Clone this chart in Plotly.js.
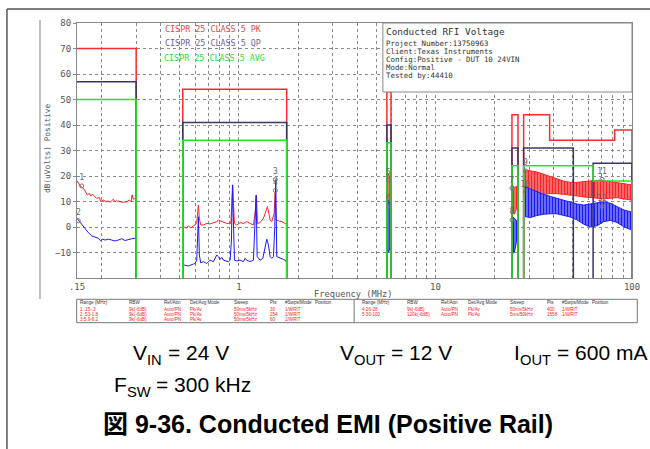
<!DOCTYPE html>
<html><head><meta charset="utf-8">
<script src="https://cdn.plot.ly/plotly-3.0.1.min.js"></script>
<style>html,body{margin:0;padding:0;background:#fff;}#chart{width:650px;height:449px;}</style>
</head><body><div id="chart"></div>
<script>
// ---------------- data ----------------
const xTickVals = [0.15, 1, 10, 100];
const xTickText = ['.15', '1', '10', '100'];
const xMinorVals = [0.2,0.3,0.4,0.5,0.6,0.7,0.8,0.9,2,3,4,5,6,7,8,9,20,30,40,50,60,70,80,90];
const yTickVals = [-10,0,10,20,30,40,50,60,70,80];

// Range 1: 0.15-0.3 MHz
const r1PkFreq = [0.150,0.1554,0.1617,0.1647,0.1693,0.1733,0.1761,0.1803,0.1853,0.1889,0.1949,0.198,0.2043,0.2108,0.2166,0.2208,0.2251,0.2296,0.2342,0.2388,0.2483,0.2582,0.2685,0.277,0.2826,0.2859,0.2904,0.2973];
const r1Pk = [18.2,16.1,15.2,13.9,12.6,13.2,12.2,12.8,11.9,11.2,11.6,9.9,10.6,9.9,10.2,9.7,10.3,10.9,9.9,10.3,9.9,9.7,9.9,10.6,9.9,12.6,10.9,11.2];
const r1AvFreq = [0.150,0.1524,0.1584,0.1647,0.1713,0.1782,0.1853,0.1926,0.198,0.2027,0.2083,0.2166,0.2251,0.2342,0.2435,0.2532,0.2633,0.2737,0.2847,0.2961];
const r1Av = [3.4,2.7,1.4,-0.5,-2.2,-3.5,-4.1,-4.4,-5.4,-4.8,-5.1,-4.8,-5.1,-5.5,-5.1,-4.6,-5.3,-4.8,-4.6,-4.4];

// Range 2: 0.53-1.8 MHz
const r2PkFreq = [0.526,0.538,0.553,0.569,0.587,0.598,0.610,0.617,0.622,0.629,0.639,0.660,0.686,0.713,0.742,0.771,0.786,0.802,0.818,0.834,0.850,0.867,0.884,0.902,0.912,0.923,0.930,0.938,0.949,0.975,1.014,1.054,1.096,1.140,1.185,1.214,1.228,1.242,1.282,1.333,1.375,1.397,1.419,1.441,1.470,1.511,1.528,1.546,1.590,1.653,1.719,1.752];
const r2Pk = [0.1,-0.5,0.4,-0.3,0.4,0.8,1.7,4.7,8.6,3.4,0.8,0.8,1.4,1.2,1.7,2.1,2.7,2.4,2.1,1.9,1.7,1.4,1.4,1.2,2.7,10.6,16.5,9.3,1.4,0.8,1.7,1.4,2.1,1.4,0.8,6.7,12.5,1.4,1.7,3.4,6.7,8.0,5.4,2.7,2.1,5.4,13.5,2.7,2.4,2.1,1.4,0.8];
const r2AvFreq = [0.526,0.553,0.587,0.598,0.610,0.617,0.622,0.629,0.639,0.660,0.686,0.713,0.742,0.771,0.786,0.802,0.818,0.834,0.867,0.884,0.902,0.916,0.927,0.938,0.949,0.975,1.014,1.054,1.075,1.096,1.140,1.185,1.209,1.223,1.238,1.282,1.323,1.359,1.386,1.413,1.441,1.470,1.499,1.522,1.540,1.558,1.620,1.685,1.719,1.752];
const r2Av = [-14.9,-15.3,-14.5,-14.3,-13.0,-3.8,4.0,-11.0,-14.0,-13.6,-14.3,-13.0,-13.6,-11.0,-11.6,-12.7,-11.9,-13.0,-13.3,-13.6,-13.0,-5.1,16.5,-2.5,-13.0,-13.3,-13.0,-13.6,-12.3,-13.0,-13.6,-13.0,0.1,12.5,-11.6,-13.0,-12.3,-8.4,-4.8,-7.1,-11.6,-12.3,-11.6,0.1,18.4,-11.6,-12.3,-12.7,-13.0,-14.0];

// Range 3: 5.9-6.2 MHz (dense sweep: upper / lower envelope)
const r3Freq = [5.70, 5.78, 5.86];
const r3PkHi = [20, 21, 19];
const r3PkLo = [9, 8.5, 10];
const r3AvHi = [9, 10, 8];
const r3AvLo = [-9, -10, -8];

// Range 4: 26-28 MHz
const r4Freq = [24.6, 25.2, 25.8, 26.3];
const r4PkHi = [16.5, 15.5, 16, 15];
const r4PkLo = [6, 5, 7, 8];
const r4AvHi = [4, 3.5, 2.5, 3];
const r4AvLo = [-10.3, -10, -6, -5.5];

// Range 5: 30-100 MHz
const r5Freq = [28.5,30.4,32.8,35.5,38.4,41.5,44.9,48.6,52.5,56.8,61.4,66.4,71.8,77.6,83.9,90.8,100];
const r5PkHi = [22.4,22.0,21.6,20.7,19.7,18.8,18.0,17.5,17.5,17.8,18.0,18.3,18.2,17.8,17.4,16.9,16.5];
const r5PkLo = [13.6,12.6,12.6,12.8,13.1,13.1,12.8,12.6,12.2,11.8,11.5,11.3,11.0,11.3,11.5,11.0,10.5];
const r5AvHi = [15.8,14.9,13.9,12.8,12.0,11.3,10.6,9.7,9.0,8.6,9.0,9.7,9.9,9.3,8.0,6.7,5.8];
const r5AvLo = [4.1,3.7,4.5,5.0,5.2,5.2,4.7,3.9,2.8,1.1,0.0,0.5,2.1,2.6,1.8,0.1,-1.2];

// CISPR 25 Class 5 limit segments
const pkStart = [0.15, 0.518, 5.66, 24.5, 28.1, 38.1, 81.6];
const pkStop  = [0.3, 1.75, 5.94, 26.3, 38.1, 81.6, 100];
const pkLevel = [70, 54, 53, 44, 44, 34, 38];
const qpStart = [0.15, 0.518, 5.66, 24.5, 28.1, 63.4];
const qpStop  = [0.3, 1.75, 5.94, 26.3, 50.3, 100];
const qpLevel = [57, 41, 40, 31, 31, 25];
const avStart = [0.15, 0.518, 5.66, 24.5, 28.1, 63.4];
const avStop  = [0.3, 1.75, 5.94, 26.3, 63.4, 100];
const avLevel = [50, 34, 33, 24, 24, 18];
const limitFloor = -20;

// Markers
const mkLabel = ['1','2','3','4','5','6','7','8','9','10','11','12'];
const mkFreq  = [0.1585,0.1523,1.533,1.533,5.75,5.75,24.5,24.5,28.65,28.65,70.4,70.4];
const mkLevel = [16.1,2.5,18.6,14.3,18.4,8.0,15.2,2.75,22.0,13.6,18.7,8.0];

// Texts
const legendLabels = ['CISPR 25 CLASS 5 PK', 'CISPR 25 CLASS 5 QP', 'CISPR 25 CLASS 5 AVG'];
const infoTitle = 'Conducted RFI Voltage';
const infoLines = ['Project Number:13750963', 'Client:Texas Instruments', 'Config:Positive - DUT 10 24VIN', 'Mode:Normal', 'Tested by:44410'];
const tableHeader = ['Range (MHz)', 'RBW', 'Ref/Attn', 'Det/Avg Mode', 'Sweep', 'Pts', '#Swps/Mode', 'Position'];
const tableLeftRows = [
  ['1:.15-.3', '9k(-6dB)', 'Auto/PN', 'Pk/Av', '50ms/5kHz', '30', '1/WRIT'],
  ['2:.53-1.8', '9k(-6dB)', 'Auto/PN', 'Pk/Av', '50ms/5kHz', '254', '1/WRIT'],
  ['3:5.9-6.2', '9k(-6dB)', 'Auto/PN', 'Pk/Av', '50ms/5kHz', '60', '1/WRIT']
];
const tableRightRows = [
  ['4:26-28', '9k(-6dB)', 'Auto/PN', 'Pk/Av', '50ms/5kHz', '400', '1/WRIT'],
  ['5:30-100', '120k(-6dB)', 'Auto/PN', 'Pk/Av', '5ms/50kHz', '1558', '1/WRIT']
];
// caption pieces: symbol, subscript, remainder
const captionRow1 = [['V', 'IN', '= 24 V'], ['V', 'OUT', '= 12 V'], ['I', 'OUT', '= 600 mA']];
const captionRow2 = [['F', 'SW', '= 300 kHz']];
const figureTitle = '図 9-36. Conducted EMI (Positive Rail)';

// ---------------- layout helpers ----------------
const W = 650, H = 449;
const PL = 77, PR = 631.7, PT = 23, PB = 278;
const px = x => (x - PL) / (PR - PL);
const py = y => (PB - y) / (PB - PT);

const RED = '#ff2222', BLUE = '#1a1aff';
const PKC = '#ff2a2a', QPC = '#3d3566', AVC = '#22e622';
const MONO = 'DejaVu Sans Mono';
const SANS = 'Liberation Sans, Arial, sans-serif';

function envelope(f, hi, lo) {
  return { x: f.concat(f.slice().reverse()), y: hi.concat(lo.slice().reverse()) };
}
function limitPath(starts, stops, levels, floor, axisMin) {
  const x = [], y = [];
  for (let i = 0; i < starts.length; i++) {
    const joined = i > 0 && starts[i] === stops[i - 1];
    if (!joined) {
      if (i > 0) { x.push(stops[i - 1]); y.push(floor); x.push(null); y.push(null); }
      if (starts[i] > axisMin) { x.push(starts[i]); y.push(floor); }
    }
    x.push(starts[i]); y.push(levels[i]);
    x.push(stops[i]); y.push(levels[i]);
  }
  x.push(stops[stops.length - 1]); y.push(floor);
  return { x, y };
}

const traces = [];
function lineTrace(x, y, color) {
  traces.push({ x, y, type: 'scatter', mode: 'lines', line: { color, width: 1 }, hoverinfo: 'skip', showlegend: false });
}
function bandTrace(f, hi, lo, color, bg) {
  const e = envelope(f, hi, lo);
  traces.push({ x: e.x, y: e.y, type: 'scatter', mode: 'lines', fill: 'toself',
    fillcolor: bg, fillpattern: { shape: '|', fgcolor: color, bgcolor: bg, size: 3, solidity: 0.55 },
    line: { color, width: 1 }, hoverinfo: 'skip', showlegend: false });
}

lineTrace(r1PkFreq, r1Pk, RED);
lineTrace(r1AvFreq, r1Av, BLUE);
lineTrace(r2PkFreq, r2Pk, RED);
lineTrace(r2AvFreq, r2Av, BLUE);
bandTrace(r3Freq, r3PkHi, r3PkLo, RED, '#ff8a8a');
bandTrace(r3Freq, r3AvHi, r3AvLo, BLUE, '#8a8aff');
bandTrace(r4Freq, r4PkHi, r4PkLo, RED, '#ff8a8a');
bandTrace(r4Freq, r4AvHi, r4AvLo, BLUE, '#8a8aff');
bandTrace(r5Freq, r5PkHi, r5PkLo, RED, '#ff8a8a');
bandTrace(r5Freq, r5AvHi, r5AvLo, BLUE, '#9090ff');

const axisMin = xTickVals[0];
[[pkStart, pkStop, pkLevel, PKC], [qpStart, qpStop, qpLevel, QPC], [avStart, avStop, avLevel, AVC]].forEach(d => {
  const p = limitPath(d[0], d[1], d[2], limitFloor, axisMin);
  traces.push({ x: p.x, y: p.y, type: 'scatter', mode: 'lines', line: { color: d[3], width: 1.5 },
    connectgaps: false, hoverinfo: 'skip', showlegend: false, cliponaxis: true });
});

traces.push({ x: mkFreq, y: mkLevel, text: mkLabel, type: 'scatter', mode: 'markers+text',
  textposition: 'top center', textfont: { family: MONO, size: 8, color: '#666' },
  marker: { symbol: 'circle-open', size: 4, color: '#777', line: { width: 1, color: '#777' } },
  hoverinfo: 'skip', showlegend: false, cliponaxis: false });

// ---------------- annotations ----------------
const ann = [];
function txt(text, x, y, size, color, opts, family) {
  ann.push(Object.assign({ text, x: px(x), y: py(y), xref: 'paper', yref: 'paper', showarrow: false,
    xanchor: 'left', yanchor: 'middle', font: { family: family || MONO, size, color } }, opts || {}));
}
txt(legendLabels[0], 163, 29.3, 8.4, '#e44a4a');
txt(legendLabels[1], 163, 43.3, 8.4, '#6f5f9f');
txt(legendLabels[2], 161.7, 58, 8.4, '#33dd33');
txt(infoTitle, 384, 31, 9.4, '#333');
const infoY = [43.3, 51.7, 59.3, 67.3, 75.3];
infoLines.forEach((t, i) => txt(t, 384, infoY[i], 7.4, '#333'));
txt('dB(uVolts) Positive', 47, 148, 7.8, '#555', { xanchor: 'center', textangle: -90 });
txt('Frequency (MHz)', 353, 294, 8.7, '#555', { xanchor: 'center' });

// measurement table
const colL = [78.3, 126.7, 161.7, 188.3, 232, 268.3, 282.7, 313.3];
const colR = [360, 405, 439.3, 466, 508, 545, 559.3, 590];
const rowY = [309, 314, 319.3];
const TF = 4.6;
tableHeader.forEach((h, i) => { txt(h, colL[i], 302.7, TF, '#333', null, SANS); txt(h, colR[i], 302.7, TF, '#333', null, SANS); });
tableLeftRows.forEach((r, j) => r.forEach((c, i) => txt(c, colL[i], rowY[j], TF, '#ff2020', null, SANS)));
tableRightRows.forEach((r, j) => r.forEach((c, i) => txt(c, colR[i], rowY[j], TF, '#ff2020', null, SANS)));

// captions (main text + subscript pieces, measured with canvas)
const mctx = document.createElement('canvas').getContext('2d');
function textWidth(t, size) { mctx.font = size + 'px "Liberation Sans"'; return mctx.measureText(t).width; }
const CAP = 21, SUB = 14.7;
function caption(parts, x, y) {
  const f = (size) => ({ family: SANS, size, color: '#000' });
  ann.push({ text: parts[0], x: px(x), y: py(y), xref: 'paper', yref: 'paper', showarrow: false, xanchor: 'left', yanchor: 'middle', font: f(CAP) });
  const x2 = x + textWidth(parts[0], CAP);
  ann.push({ text: parts[1], x: px(x2), y: py(y + 8.4), xref: 'paper', yref: 'paper', showarrow: false, xanchor: 'left', yanchor: 'middle', font: f(SUB) });
  const x3 = x2 + textWidth(parts[1], SUB) + textWidth(' ', CAP);
  ann.push({ text: parts[2], x: px(x3), y: py(y), xref: 'paper', yref: 'paper', showarrow: false, xanchor: 'left', yanchor: 'middle', font: f(CAP) });
}
const capX1 = [131, 338, 512];
captionRow1.forEach((p, i) => caption(p, capX1[i], 352));
caption(captionRow2[0], 111.7, 384);
ann.push({ text: figureTitle, x: px(328), y: py(424), xref: 'paper', yref: 'paper',
  showarrow: false, xanchor: 'center', yanchor: 'middle',
  font: { family: 'Liberation Sans, Noto Sans CJK JP, sans-serif', size: 25, weight: 'bold', color: '#000' } });

// ---------------- shapes (frames) ----------------
const shapes = [
  { type: 'line', xref: 'paper', yref: 'paper', x0: px(7), x1: px(7), y0: py(9), y1: py(449), line: { color: '#555', width: 1.5 } },
  { type: 'line', xref: 'paper', yref: 'paper', x0: px(7), x1: px(650), y0: py(9), y1: py(9), line: { color: '#555', width: 1.5 } },
  { type: 'line', xref: 'paper', yref: 'paper', x0: px(40), x1: px(40), y0: py(20), y1: py(299), line: { color: '#aaa', width: 1.5 } },
  { type: 'rect', xref: 'paper', yref: 'paper', x0: px(382.7), x1: 1, y0: py(92), y1: 1, layer: 'above',
    fillcolor: '#fff', line: { color: '#888', width: 1 } },
  { type: 'rect', xref: 'paper', yref: 'paper', x0: px(76.7), x1: px(637), y0: py(322.7), y1: py(299.3),
    line: { color: '#777', width: 1 } },
  { type: 'line', xref: 'paper', yref: 'paper', x0: px(354), x1: px(354), y0: py(322.7), y1: py(299.3),
    line: { color: '#777', width: 1 } }
];

const gridCol = '#8a8a8a';
const layout = {
  width: W, height: H,
  margin: { l: PL, r: W - PR, t: PT, b: H - PB, pad: 0 },
  paper_bgcolor: '#fff', plot_bgcolor: '#fff',
  showlegend: false,
  xaxis: {
    type: 'log', range: [Math.log10(xTickVals[0]), Math.log10(xTickVals[3])],
    tickmode: 'array', tickvals: xTickVals, ticktext: xTickText,
    showgrid: true, gridcolor: gridCol, griddash: 'dot', gridwidth: 1,
    minor: { tickmode: 'array', tickvals: xMinorVals, showgrid: true, gridcolor: gridCol, griddash: 'dot', gridwidth: 1, ticks: '' },
    showline: true, linecolor: '#888', linewidth: 1, mirror: true, ticks: '', zeroline: false,
    tickfont: { family: MONO, size: 9, color: '#555' }
  },
  yaxis: {
    range: [-20, 80], tickmode: 'array', tickvals: yTickVals,
    showgrid: true, gridcolor: gridCol, griddash: 'dot', gridwidth: 1,
    showline: true, linecolor: '#888', linewidth: 1, mirror: true,
    ticks: 'outside', ticklen: 3, tickcolor: '#888', zeroline: false,
    tickfont: { family: MONO, size: 9, color: '#555' }
  },
  annotations: ann,
  shapes: shapes
};

Plotly.newPlot('chart', traces, layout, { staticPlot: true, displayModeBar: false });
</script>
</body></html>
